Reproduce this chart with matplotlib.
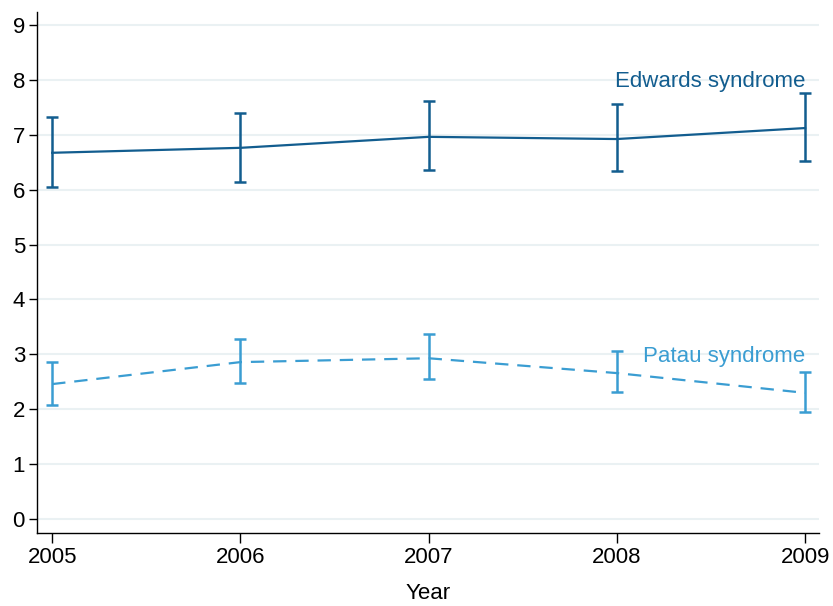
import matplotlib
matplotlib.use("Agg")
import matplotlib.pyplot as plt

years = [2005, 2006, 2007, 2008, 2009]

edwards = [6.67, 6.76, 6.96, 6.92, 7.12]
edwards_lo = [6.05, 6.14, 6.36, 6.34, 6.52]
edwards_hi = [7.32, 7.40, 7.61, 7.56, 7.76]

patau = [2.46, 2.86, 2.93, 2.66, 2.30]
patau_lo = [2.08, 2.48, 2.55, 2.31, 1.95]
patau_hi = [2.86, 3.28, 3.37, 3.06, 2.68]

EDW_COL = '#125d8f'
PAT_COL = '#3a9dd2'

plt.rcParams['font.family'] = ['Liberation Sans', 'DejaVu Sans']

fig = plt.figure(figsize=(8.33, 6.06), dpi=100)
ax = fig.add_axes([0.045, 0.1205, 0.938, 0.8595])

def err(vals, lo, hi):
    return [[v - l for v, l in zip(vals, lo)], [h - v for v, h in zip(vals, hi)]]

ax.errorbar(years, edwards, yerr=err(edwards, edwards_lo, edwards_hi),
            color=EDW_COL, lw=1.6, elinewidth=1.8, capsize=4.3, capthick=1.8)
ax.errorbar(years, patau, yerr=err(patau, patau_lo, patau_hi),
            color=PAT_COL, lw=1.6, ls=(0, (6, 4)), elinewidth=1.8,
            capsize=4.3, capthick=1.8)

ax.text(2009, 7.97, 'Edwards syndrome', color=EDW_COL, fontsize=16,
        ha='right', va='center')
ax.text(2009, 2.97, 'Patau syndrome', color=PAT_COL, fontsize=16,
        ha='right', va='center')

ax.set_xlim(2005 - 0.078, 2009 + 0.073)
ax.set_ylim(-0.25, 9.23)
ax.set_xticks(years)
ax.set_yticks(range(0, 10))
ax.yaxis.grid(True, color='#eaf1f3', lw=1.5)
ax.set_axisbelow(True)
for s in ['top', 'right']:
    ax.spines[s].set_visible(False)
for s in ['left', 'bottom']:
    ax.spines[s].set_linewidth(1.0)
ax.tick_params(axis='both', labelsize=16, width=1.0, direction='out')
ax.tick_params(axis='x', length=7, pad=3)
ax.tick_params(axis='y', length=6, pad=3)
ax.set_xlabel('Year', fontsize=16, labelpad=11)

fig.savefig('out.png', dpi=100)
